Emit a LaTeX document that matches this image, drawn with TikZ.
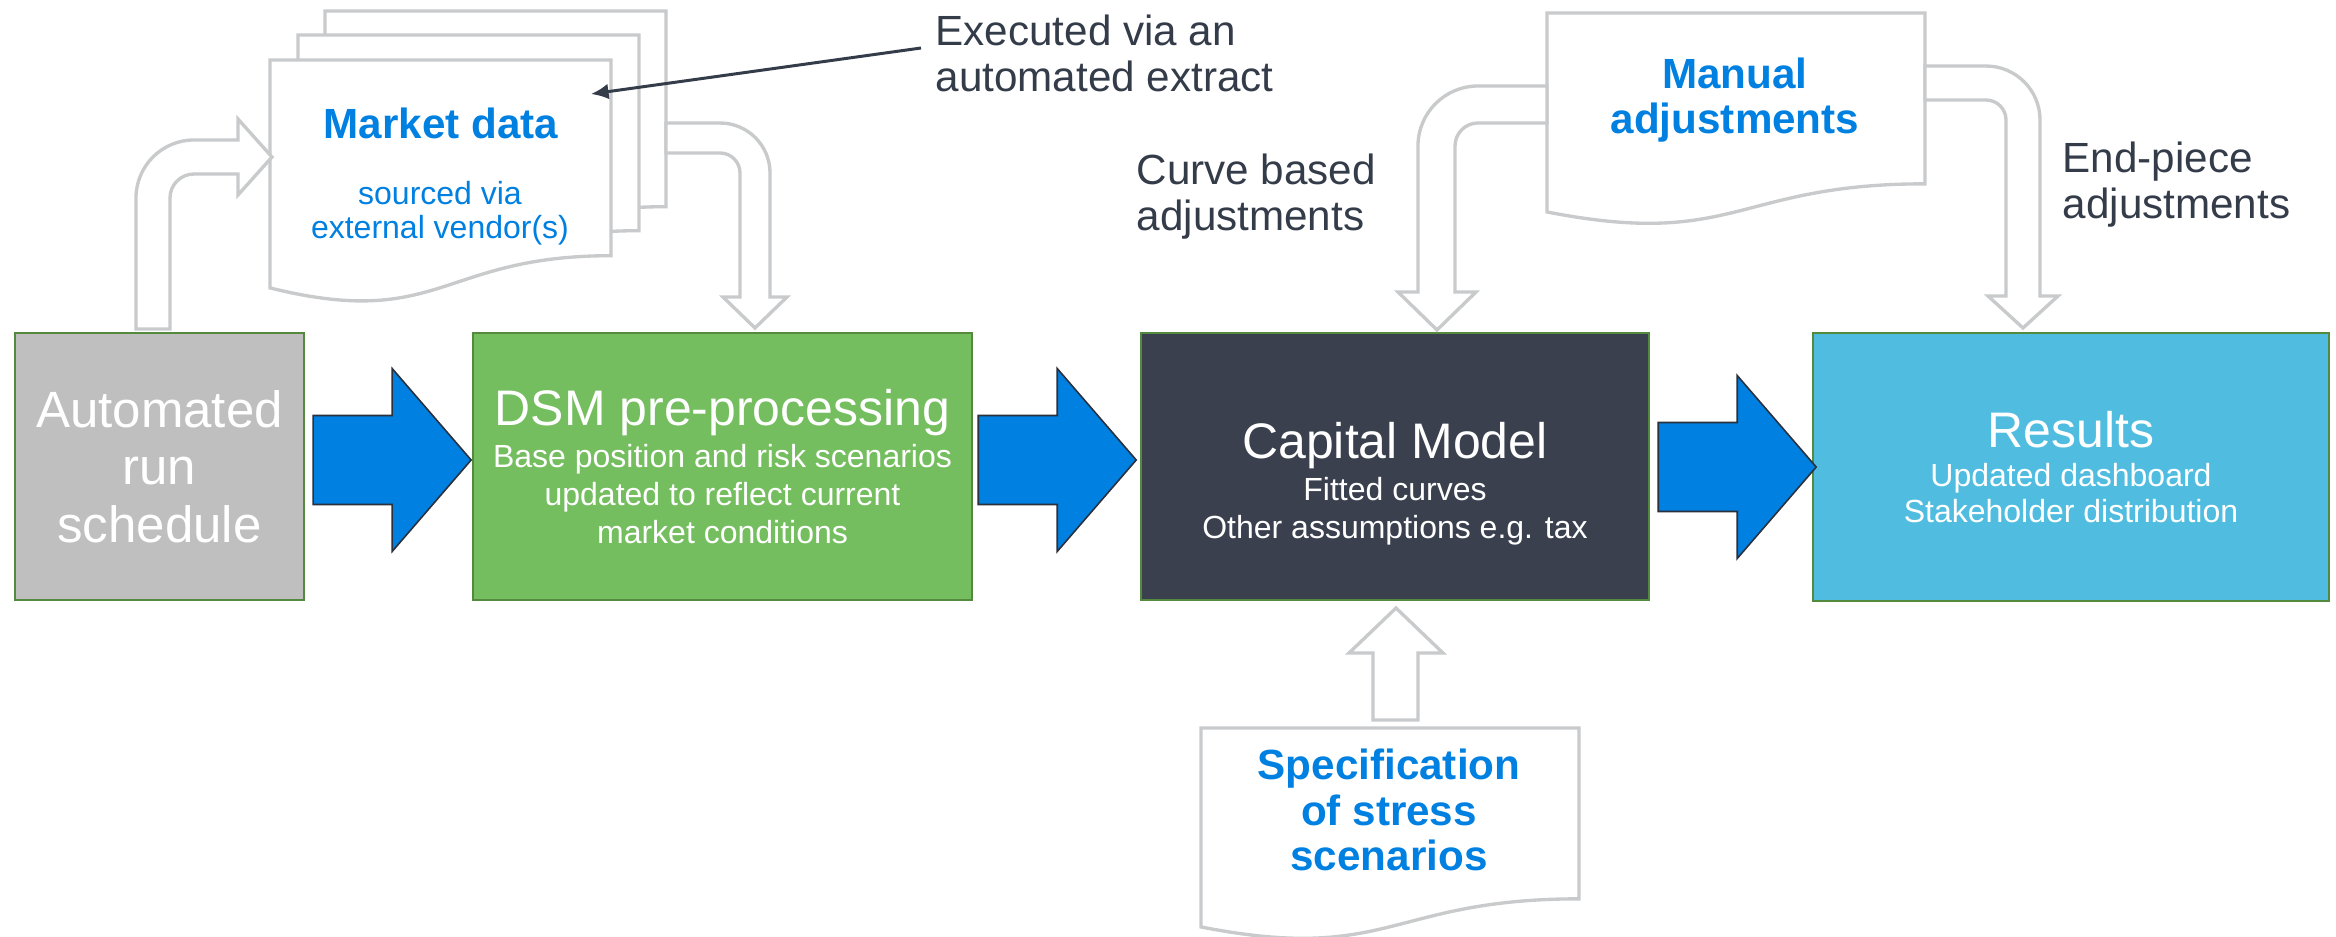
\documentclass[tikz,border=0pt]{standalone}
\usepackage{fontspec}
\setmainfont{Liberation Sans}
\usetikzlibrary{calc}
\usetikzlibrary{arrows.meta}

\definecolor{schedgray}{RGB}{191,191,191}
\definecolor{dsmgreen}{RGB}{117,190,95}
\definecolor{capslate}{RGB}{58,64,78}
\definecolor{resblue}{RGB}{80,189,224}
\definecolor{boxedge}{RGB}{84,138,62}
\definecolor{flowblue}{RGB}{0,128,224}
\definecolor{flowedge}{RGB}{42,48,60}
\definecolor{inkdark}{RGB}{52,60,74}
\definecolor{inkblue}{RGB}{0,128,224}
\definecolor{pagegray}{RGB}{200,202,203}

\newcommand{\titlesize}{\fontsize{14.2}{17}\selectfont}

\tikzset{
  procbox/.style={draw=boxedge, line width=0.6pt, minimum height=2.67cm, inner sep=0pt,
    text=white, align=center, font=\fontsize{9.1}{10.8}\selectfont},
  flowarrow/.style={fill=flowblue, draw=flowedge, line width=0.45pt},
  hollow/.style={draw=pagegray, fill=white, line width=0.95pt},
  docline/.style={draw=pagegray, fill=white, line width=0.95pt},
  note/.style={text=inkdark, align=left, inner sep=0pt, font=\fontsize{12}{12.8}\selectfont},
  doctitle/.style={text=inkblue, align=center, inner sep=0pt, font=\bfseries\fontsize{12}{12.6}\selectfont},
  callout/.style={draw=inkdark, line width=0.85pt, -{Latex[length=5pt,width=4.5pt]}},
  pics/bluearrow/.style={code={
    \draw[flowarrow] (0,-44.5) -- (79,-44.5) -- (79,-91.5) -- (158,0) -- (79,91.5) -- (79,44.5) -- (0,44.5) -- cycle;}},
  pics/docpage/.style 2 args={code={
    \draw[docline] (0,0) -- (#1,0) -- (#1,0.802*#2) .. controls (0.5*#1,0.802*#2) and (0.5*#1,1.1075*#2) .. (0,0.934*#2) -- cycle;}}
}

\begin{document}
\begin{tikzpicture}[x=0.01cm, y=-0.01cm]
  \useasboundingbox (0,0) rectangle (2336,936);

  % Process boxes
  \node[procbox, fill=schedgray, minimum width=2.89cm, font=\fontsize{14.5}{16.3}\selectfont] (sched) at (159.5,466.5) {Automated\\run\\schedule};
  \node[procbox, fill=dsmgreen, minimum width=4.99cm] (dsm) at (722.5,466.5) {{\titlesize DSM pre-processing}\\[1.2pt] Base position and risk scenarios\\updated to reflect current\\market conditions};
  \node[procbox, fill=capslate, minimum width=5.08cm] (capital) at (1395,466.5) {};
  \node[text=white, align=center, inner sep=0pt, font=\fontsize{9.1}{10.8}\selectfont] (captext) at ($(capital)+(0,17)$) {{\titlesize Capital Model}\\[1.2pt] Fitted curves\\Other assumptions e.g. tax};
  \node[procbox, fill=resblue, minimum width=5.16cm, minimum height=2.68cm, font=\fontsize{9.1}{10}\selectfont] (results) at (2071,467) {{\titlesize Results}\\[1.1pt] Updated dashboard\\Stakeholder distribution};

  % Blue flow arrows
  \pic at ($(sched.east)+(8,-6.5)$) {bluearrow};
  \pic at ($(dsm.east)+(5,-6.5)$) {bluearrow};
  \pic at ($(capital.east)+(8,0.5)$) {bluearrow};

  % Documents
  \pic at (325,11) {docpage={341}{244}};
  \pic at (298,35) {docpage={341}{244}};
  \pic at (270,60) {docpage={341}{244}};
  \pic at (1547,13) {docpage={378}{213}};
  \pic at (1201,728) {docpage={378}{213}};

  % Hollow arrows
  \draw[hollow] (136,329) -- (136,198) arc[start angle=180, end angle=90, radius=5.8mm] -- (238,140) -- (238,119) -- (272,157) -- (238,195) -- (238,174) -- (194,174) arc[start angle=90, end angle=180, radius=2.4mm] -- (170,329) -- cycle;
  \draw[hollow] (666,123) -- (720,123) arc[start angle=90, end angle=0, radius=5mm] -- (770,297) -- (787,297) -- (755,328) -- (723,297) -- (740,297) -- (740,173) arc[start angle=0, end angle=90, radius=2mm] -- (666,153) -- cycle;
  \draw[hollow] (1547,86) -- (1478,86) arc[start angle=90, end angle=180, radius=6mm] -- (1418,292) -- (1398,292) -- (1437,330) -- (1476,292) -- (1455,292) -- (1455,146) arc[start angle=180, end angle=90, radius=2.3mm] -- (1547,123) -- cycle;
  \draw[hollow] (1925,66) -- (1986,66) arc[start angle=90, end angle=0, radius=5.4mm] -- (2040,296) -- (2058,296) -- (2023,328) -- (1988,296) -- (2006,296) -- (2006,120) arc[start angle=0, end angle=90, radius=2mm] -- (1925,100) -- cycle;
  \draw[hollow] (1373,720) -- (1373,653) -- (1349,653) -- (1396,608) -- (1443,653) -- (1418,653) -- (1418,720) -- cycle;

  % Document texts
  \node[doctitle, anchor=base] (mkt) at (441,138) {Market data};
  \node[doctitle, anchor=base, font=\fontsize{9.1}{9.4}\selectfont] (mktsrc) at (440,238) {sourced via\\external vendor(s)};
  \node[doctitle, anchor=base] (manual) at (1735,133) {Manual\\adjustments};
  \node[doctitle, anchor=base, font=\bfseries\fontsize{12}{12.8}\selectfont] (spec) at (1389,870) {Specification\\of stress\\scenarios};

  % Notes
  \node[note, anchor=base west] (exec) at (935,91) {Executed via an\\automated extract};
  \node[note, anchor=base west] (curve) at (1136,230) {Curve based\\adjustments};
  \node[note, anchor=base west] (endp) at (2062,218) {End-piece\\adjustments};

  \coordinate (mktin) at (591,94);
  \draw[callout] ($(exec.base west)+(-14,-43)$) -- (mktin);
\end{tikzpicture}
\end{document}
